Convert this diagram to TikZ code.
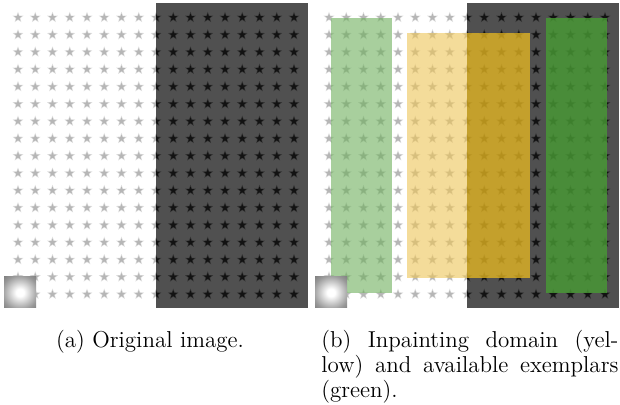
\documentclass[tikz,border=0pt]{standalone}
\usepackage{fontspec}
\definecolor{darkbg}{RGB}{80,80,80}
\definecolor{starlight}{RGB}{182,182,182}
\definecolor{stardark}{RGB}{18,18,18}
\definecolor{yellowlight}{RGB}{238,197,88}
\definecolor{yellowdark}{RGB}{235,187,33}
\definecolor{greenlight}{RGB}{110,175,93}
\definecolor{greendark}{RGB}{72,155,52}
% bright spot in the lower left corner of each image
\pgfdeclareradialshading{spotlight}{\pgfpoint{0bp}{0bp}}{%
  color(0bp)=(white); color(6bp)=(white); color(28bp)=(black!40);
  color(50bp)=(black!65); color(71bp)=(black!84); color(100bp)=(black!84)}
\tikzset{
  pics/starmark/.style={code={
    \fill[#1, draw=#1, draw opacity=0.45, line width=0.6pt]
      (-90:4) -- (-54:1.7) -- (-18:4) -- (18:1.7) -- (54:4) -- (90:1.7)
      -- (126:4) -- (162:1.7) -- (198:4) -- (234:1.7) -- cycle;}},
  caption/.style={inner sep=0pt, font=\fontsize{11.5}{13}\selectfont}
}
\begin{document}
\begin{tikzpicture}[x=0.5pt,y=-0.5pt]
\useasboundingbox (0,0) rectangle (620,405);
\fill[white] (0,0) rectangle (620,405);

% two copies of the star image: left half white, right half dark
\foreach \px in {3,314} {
  \fill[darkbg] (\px+153,3) rectangle (\px+305,308);
  \begin{scope}
    \clip (\px,3) rectangle (\px+153,308);
    \foreach \i in {0,...,8}
      \foreach \j in {0,...,16}
        \pic at ({\px+15+17.25*\i},{17.5+17.3*\j}) {starmark=starlight};
  \end{scope}
  \begin{scope}
    \clip (\px+153,3) rectangle (\px+305,308);
    \foreach \i in {8,...,16}
      \foreach \j in {0,...,16}
        \pic at ({\px+15+17.25*\i},{17.5+17.3*\j}) {starmark=stardark};
  \end{scope}
}

% inpainting domain (yellow) and available exemplars (green)
\fill[greenlight, fill opacity=0.6] (331,18) rectangle (392,293);
\fill[yellowlight, fill opacity=0.6] (407,33) rectangle (467,278);
\fill[yellowdark, fill opacity=0.75] (467,33) rectangle (530,278);
\fill[greendark, fill opacity=0.8] (546,18) rectangle (607,293);

% bright spots
\shade[shading=spotlight] (4,277) rectangle (36,308);
\shade[shading=spotlight] (315,277) rectangle (347,308);

% captions
\node[caption, anchor=base] (capa) at (150,347.5) {(a) Original image.};
\node[caption, anchor=base west] (capb1) at (321,347.5)
  {\makebox[148.5pt][s]{(b) Inpainting domain (yel-}};
\node[caption, anchor=base west] (capb2) at (321,372.5)
  {\makebox[148.5pt][s]{low) and available exemplars}};
\node[caption, anchor=base west] (capb3) at (321,397.5) {(green).};
\end{tikzpicture}
\end{document}
